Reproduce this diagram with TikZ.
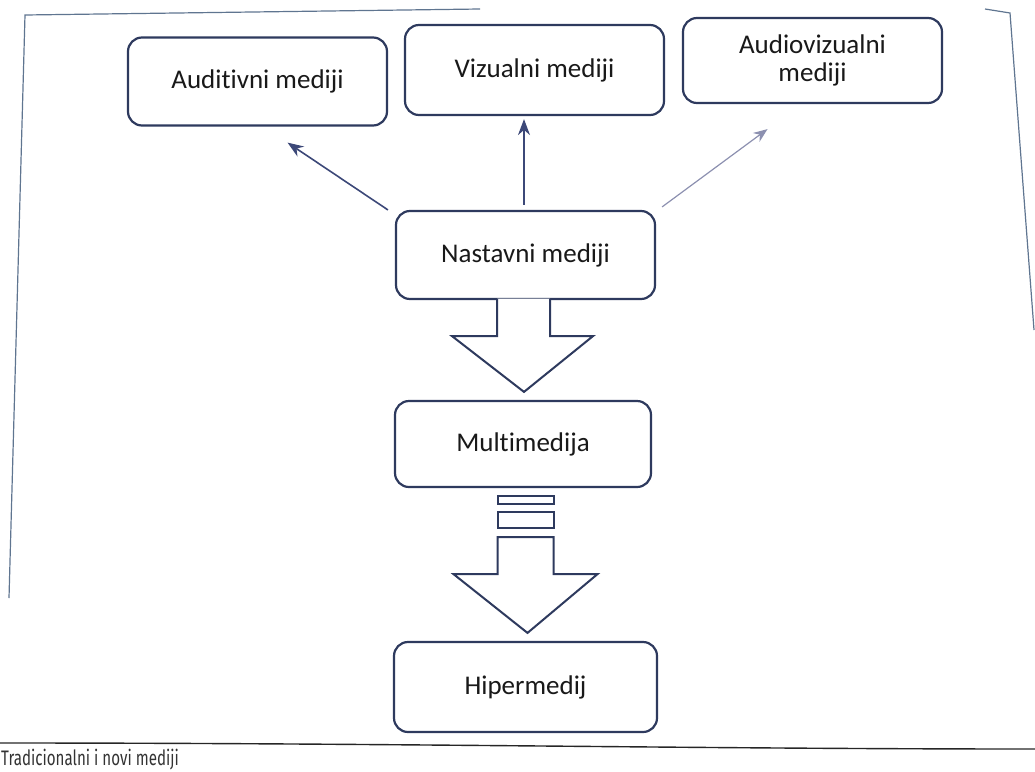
\documentclass[tikz,border=0pt]{standalone}
\usepackage{fontspec}
\setmainfont{Carlito}[Ligatures={NoCommon}]
\newfontfamily\capfont{Fira Sans}
\usetikzlibrary{arrows.meta,calc}
\definecolor{navy}{HTML}{2E3A5E}
\definecolor{arr}{HTML}{3C4878}
\definecolor{faint}{HTML}{8C90B0}
\definecolor{framec}{HTML}{5F7590}
\begin{document}
\begin{tikzpicture}[x=1pt,y=-1pt,
  mbox/.style={draw=navy, line width=2.2pt, rounded corners=14pt, fill=white,
    minimum width=259pt, minimum height=88pt, inner sep=0pt,
    font=\fontsize{27}{28}\selectfont, text=black!90, align=center},
  thinarrow/.style={draw=arr, line width=1.6pt, -{Stealth[length=16pt,width=12pt]}},
  fadedarrow/.style={draw=faint, line width=1.2pt, -{Stealth[length=14pt,width=11pt]}},
  blk/.style={draw=navy, line width=2pt, fill=white, line join=miter},
  framel/.style={draw=framec, line width=1.2pt},
]
\useasboundingbox (0,0) rectangle (1035,771);

% page frame (photo edges)
\draw[framel] (480,9) -- (25,15) -- (9,598);
\draw[framel] (985,9) -- (1010,13) -- (1034,330);
\draw[line width=1.4pt, black!85] (0,743) .. controls (400,743) and (700,749) .. (1035,749);
\node[anchor=west, inner sep=0pt, text=black!80] (cap) at (1,760)
  {\capfont\fontsize{21}{23}\selectfont\scalebox{0.72}[1]{Tradicionalni i novi mediji}};

% boxes
\node[mbox] (aud) at (257.5,81.5) {Auditivni mediji};
\node[mbox, minimum height=90pt] (viz) at (534.5,70) {Vizualni mediji};
\node[mbox, minimum height=85pt] (av) at (812.5,60.5) {Audiovizualni\\mediji};
\node[mbox] (nast) at (525.5,255) {Nastavni mediji};
\node[mbox, minimum width=256pt, minimum height=86pt] (multi) at (523,444) {Multimedija};
\node[mbox, minimum width=263pt, minimum height=90pt] (hiper) at (525.5,687) {Hipermedij};

% thin arrows
\draw[thinarrow] ($(nast.north west)+(-7,0)$) -- ($(aud.south)+(30,16)$);
\draw[thinarrow, shorten <=5pt, shorten >=3pt] ($(nast.north)+(-1.5,0)$) -- ($(nast.north |- viz.south)+(-1.5,0)$);
\draw[fadedarrow] ($(nast.north east)+(6,-3)$) -- ($(av.south)+(-45,25)$);

% block arrow 1
\coordinate (s1) at (nast.south);
\draw[blk] ($(s1)+(-28.5,-1.6)$) -- ($(s1)+(-28.5,36)$) -- ($(s1)+(-73.5,36)$)
  -- ($(multi.north)+(1,-8)$) -- ($(s1)+(67.5,36)$) -- ($(s1)+(24.5,36)$) -- ($(s1)+(24.5,-1.6)$);

% block arrow 2 (broken stem)
\coordinate (m2) at (multi.south -| hiper.north);
\draw[blk] ($(m2)+(-28,8)$) rectangle ($(m2)+(28,16)$);
\draw[blk] ($(m2)+(-28,24)$) rectangle ($(m2)+(28,40)$);
\draw[blk] ($(m2)+(-28,49)$) -- ($(m2)+(-28,86)$) -- ($(m2)+(-72,86)$)
  -- ($(hiper.north)+(2,-8)$) -- ($(m2)+(72,86)$) -- ($(m2)+(28,86)$) -- ($(m2)+(28,49)$) -- cycle;
\end{tikzpicture}
\end{document}
